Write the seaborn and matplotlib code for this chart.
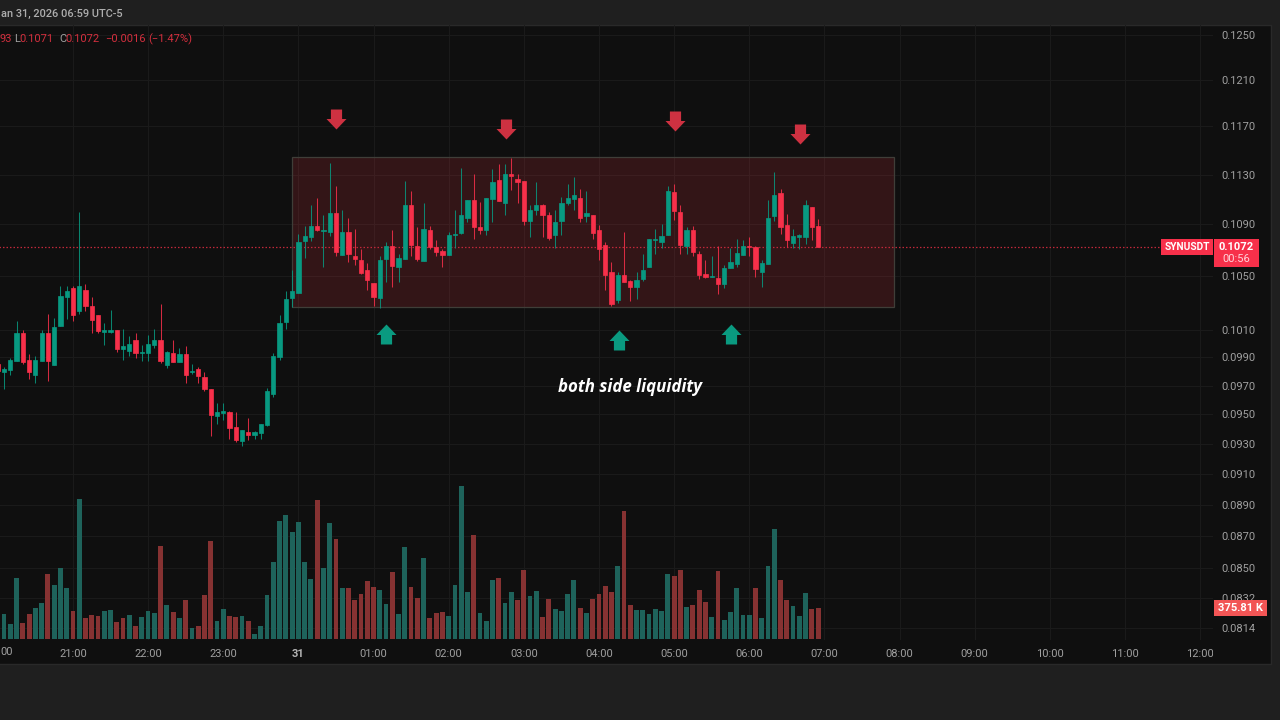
import numpy as np
import pandas as pd
import seaborn as sns
import matplotlib
matplotlib.use("Agg")
import matplotlib.pyplot as plt
from matplotlib.patches import Rectangle
from matplotlib.path import Path
from matplotlib.transforms import Bbox, TransformedBbox

# 5 minute candles, 20:00 -> 06:55, one line = one hour
opens = [
    .09851, .09797, .09808, .09874, .10080, .09879, .09773, .09874, .10080, .09844, .10126, .10342,
    .10411, .10236, .10396, .10278, .10211, .10084, .10084, .10101, .09958, .09943, .10022, .09931,
    .09934, .09993, .10022, .09844, .09934, .09865, .09922, .09797, .09815, .09763, .09675, .09489,
    .09509, .09514, .09416, .09319, .09382, .09359, .09375, .09425, .09640, .09905, .10157, .10334,
    .10374, .10772, .10800, .10884, .10850, .10839, .10990, .10661, .10839, .10651, .10623, .10547,
    .10448, .10336, .10630, .10728, .10572, .10630, .11051, .10733, .10618, .10855, .10725, .10691,
    .10661, .10813, .10831, .10951, .11094, .10876, .10852, .11102, .11258, .11070, .11305, .11264,
    .11244, .10927, .11011, .11054, .10974, .10813, .10927, .11070, .11102, .11110, .10964, .10972,
    .10855, .10736, .10532, .10322, .10509, .10460, .10421, .10479, .10572, .10780, .10761, .10816,
    .11158, .10998, .10728, .10855, .10669, .10517, .10494, .10487, .10441, .10562, .10592, .10661,
    .10730, .10725, .10532, .10592, .10966, .11150, .10895, .10753, .10800, .10800, .11035, .10884,
]
highs = [
    .09860, .09834, .09893, .10164, .10101, .09922, .09910, .10101, .10218, .10189, .10428, .10428,
    .10426, .10999, .10440, .10342, .10211, .10150, .10243, .10101, .10106, .10053, .10073, .09993,
    .10060, .10109, .10292, .09943, .10024, .09965, .09981, .09851, .09834, .09794, .09680, .09582,
    .09582, .09523, .09514, .09393, .09475, .09384, .09434, .09682, .09934, .10211, .10391, .10547,
    .10824, .10887, .11051, .11107, .10972, .11392, .11207, .11011, .10948, .10863, .10707, .10600,
    .10448, .10656, .10759, .10855, .10669, .11244, .11166, .10879, .11070, .10887, .10777, .10707,
    .10839, .11011, .11353, .11091, .11307, .11078, .11107, .11348, .11389, .11389, .11436, .11305,
    .11244, .11051, .11239, .11059, .10998, .11014, .11118, .11220, .11281, .11182, .11166, .10972,
    .10898, .10761, .10608, .10532, .10839, .10468, .10532, .10669, .10782, .10863, .10900, .11207,
    .11226, .11056, .10879, .10887, .10691, .10620, .10651, .10730, .10582, .10715, .10782, .10777,
    .10800, .10730, .10623, .11094, .11321, .11179, .10980, .10860, .10824, .11094, .11035, .10940,
]
lows = [
    .09795, .09675, .09773, .09874, .09851, .09750, .09717, .09874, .09733, .09844, .10126, .10181,
    .10162, .10218, .10241, .10073, .10077, .09993, .10077, .09938, .09879, .09907, .09893, .09872,
    .09872, .09969, .09860, .09822, .09867, .09865, .09722, .09780, .09719, .09661, .09352, .09434,
    .09461, .09332, .09312, .09287, .09325, .09332, .09332, .09420, .09621, .09879, .10109, .10265,
    .10374, .10641, .10766, .10847, .10567, .10808, .10656, .10661, .10605, .10585, .10517, .10396,
    .10275, .10262, .10458, .10416, .10458, .10630, .10653, .10615, .10618, .10707, .10653, .10567,
    .10661, .10717, .10824, .10919, .10785, .10824, .10816, .10919, .11086, .10974, .11174, .11070,
    .10895, .10798, .10972, .10803, .10777, .10715, .10816, .11051, .11011, .10919, .10919, .10785,
    .10623, .10396, .10277, .10300, .10458, .10310, .10329, .10463, .10572, .10669, .10715, .10816,
    .10935, .10669, .10669, .10653, .10479, .10484, .10494, .10366, .10411, .10562, .10567, .10661,
    .10651, .10494, .10416, .10592, .10927, .10824, .10723, .10715, .10707, .10746, .10777, .10723,
]
closes = [
    .09801, .09815, .09879, .10080, .09867, .09797, .09879, .10073, .09872, .10121, .10349, .10391,
    .10211, .10428, .10273, .10174, .10094, .10101, .10101, .09958, .09981, .10000, .09929, .09938,
    .10000, .10029, .09872, .09938, .09867, .09922, .09773, .09804, .09768, .09675, .09495, .09514,
    .09523, .09409, .09323, .09393, .09359, .09377, .09434, .09663, .09910, .10152, .10329, .10391,
    .10759, .10805, .10884, .10852, .10855, .10990, .10684, .10839, .10669, .10630, .10524, .10470,
    .10341, .10623, .10728, .10580, .10638, .11051, .10738, .10630, .10863, .10723, .10684, .10661,
    .10816, .10824, .10974, .11091, .10879, .10855, .11107, .11239, .11086, .11305, .11289, .11239,
    .10927, .11011, .11054, .10972, .10792, .10919, .11070, .11110, .11131, .10951, .10990, .10831,
    .10707, .10509, .10292, .10509, .10458, .10421, .10468, .10547, .10782, .10782, .10805, .11166,
    .11006, .10738, .10855, .10684, .10509, .10492, .10502, .10441, .10562, .10608, .10676, .10730,
    .10725, .10554, .10600, .10951, .11131, .10879, .10774, .10805, .10816, .11051, .10879, .10723,
]
# volume in thousands
volumes = [
    196, 304, 184, 736, 196, 304, 376, 436, 784, 644, 856, 616,
    336, 1680, 256, 284, 276, 336, 344, 208, 256, 292, 160, 268,
    336, 316, 1120, 412, 328, 248, 472, 128, 160, 524, 1180, 216,
    364, 276, 268, 276, 216, 64, 156, 532, 920, 1420, 1488, 1280,
    1408, 928, 716, 1672, 848, 1396, 1204, 608, 616, 472, 544, 700,
    628, 592, 424, 808, 304, 1108, 628, 496, 976, 256, 316, 328,
    276, 644, 1840, 568, 1248, 316, 216, 704, 736, 436, 568, 472,
    832, 516, 576, 268, 484, 364, 336, 544, 712, 376, 316, 484,
    544, 640, 568, 876, 1540, 412, 344, 352, 304, 364, 336, 776,
    756, 828, 388, 404, 592, 448, 268, 820, 224, 328, 616, 284,
    284, 608, 248, 876, 1316, 712, 464, 396, 276, 556, 356, 375.81,
]
vol_sides = list("dgggddggdgggdgdddggddgdgggdgdgdgdddggddgdggggg"
                 "gggggdggdgdddddggdggddgdddggggdgggdggddggddg"
                 "gggdgddddgddggggggddgdddgdgggggdgggddgggdd")

price_ticks = [.1250, .1210, .1170, .1130, .1090, .1050, .1010, .0990, .0970, .0950, .0930, .0910,
               .0890, .0870, .0850, .0832, .0814]
time_ticks = list(range(12, 193, 12))
time_labels = ["21:00", "22:00", "23:00", "31", "01:00", "02:00", "03:00", "04:00",
               "05:00", "06:00", "07:00", "08:00", "09:00", "10:00", "11:00", "12:00"]

# drawings on the chart (bar number, price)
box_x = [47.06, 143.1]
box_y = [.1027, .11444]
sell_x = [54.0, 81.15, 108.1, 128.1]
sell_y = [.11763, .11678, .1175, .11636]
buy_x = [62.0, 99.2, 117.1]
buy_y = [.10071, .10029, .10071]

UP = "#089981"
DOWN = "#F7304A"
VOL_UP = "#1E635B"
VOL_DOWN = "#863232"
PANEL = "#0F0F0F"
GRID = "#1A1A1A"
TXT = "#A0A0A0"
DIM_RED = "#D32F3E"

sns.set_theme(style="dark", rc={"axes.facecolor": "none", "figure.facecolor": "#1F1F1F"})
plt.rcParams["font.family"] = ["Roboto", "DejaVu Sans"]

W, H = 1280, 720
fig = plt.figure(figsize=(W / 100, H / 100), dpi=100)


def px_rect(x0, y0, x1, y1, color, edge="none", z=0):
    fig.add_artist(Rectangle((x0 / W, 1 - y1 / H), (x1 - x0) / W, (y1 - y0) / H, transform=fig.transFigure,
                             facecolor=color, edgecolor=edge, linewidth=1, zorder=z))


def px_text(x, y, s, color=TXT, ha="left", size=8.0, weight="normal", z=6):
    fig.text(x / W, 1 - y / H, s, color=color, ha=ha, va="center", fontsize=size, fontweight=weight, zorder=z)


px_rect(-5, 25, 1271, 664, PANEL, edge="#292929", z=-5)

# axes run a little past the left edge so the first candle still gets drawn
left_px, right_px, top_px, bottom_px = -10, 1213, 25, 640
pos = [left_px / W, 1 - bottom_px / H, (right_px - left_px) / W, (bottom_px - top_px) / H]
ax = fig.add_axes(pos)
vax = fig.add_axes(pos, sharex=ax)

candles = pd.DataFrame({"o": opens, "h": highs, "l": lows, "c": closes})
candles["i"] = candles.index
candles["color"] = np.where(candles.c >= candles.o, UP, DOWN)

ax.set_yscale("log")
ax.add_patch(Rectangle((box_x[0], box_y[0]), box_x[1] - box_x[0], box_y[1] - box_y[0],
                       facecolor=(0.95, 0.21, 0.27, 0.16), edgecolor="#3F3E38", linewidth=0.9, zorder=1.5))
ax.hlines(closes[-1], -2, 185.7, color="#C0283A", linewidth=0.9, linestyles=(0, (1.2, 1.6)), zorder=2)
ax.vlines(candles.i, candles.l, candles.h, color=candles.color, linewidth=0.75, alpha=0.85, zorder=3)
ax.bar(candles.i, (candles.c - candles.o).abs(), bottom=candles[["o", "c"]].min(axis=1), width=0.68,
       color=candles.color, edgecolor=candles.color, linewidth=0.5, zorder=4)

# the arrows are the same shape, just mirrored
up_arrow = Path([(-.56, -1), (.56, -1), (.56, -.05), (1, -.05), (0, 1), (-1, -.05), (-.56, -.05), (-.56, -1)])
down_arrow = Path([(x, -y) for x, y in up_arrow.vertices])
sns.scatterplot(x=sell_x, y=sell_y, marker=down_arrow, s=207, color="#CE3141", linewidth=0, ax=ax, zorder=5)
sns.scatterplot(x=buy_x, y=buy_y, marker=up_arrow, s=207, color="#0A9A80", linewidth=0, ax=ax, zorder=5)
ax.text(100.95, .09692, "both side liquidity", color="white", ha="center", va="center", fontsize=12.2,
        fontweight="bold", fontstyle="italic", family=["Open Sans", "DejaVu Sans"], zorder=6)

volume = pd.DataFrame({"i": candles.i, "vol": volumes, "side": vol_sides})
sns.barplot(data=volume, x="i", y="vol", hue="side", palette={"g": VOL_UP, "d": VOL_DOWN}, native_scale=True,
            dodge=False, width=0.77, saturation=1, legend=False, linewidth=0, edgecolor="none", ax=vax)
vax.set_ylim(-12, 7368)
vax.axis("off")

ax.set_xlim(-1.245, 194.06)
ax.set_ylim(.0807, .12591)
ax.set_yticks(price_ticks, [f"{p:.4f}" for p in price_ticks])
ax.minorticks_off()
ax.yaxis.tick_right()
ax.set_xticks(time_ticks, time_labels)
ax.tick_params(axis="both", length=0, labelcolor=TXT, labelsize=8.0)
ax.tick_params(axis="x", pad=6.5)
ax.tick_params(axis="y", pad=5.8)
ax.set_xlabel("")
ax.set_ylabel("")
ax.grid(True, color=GRID, linewidth=0.72)
ax.set_axisbelow(True)
sns.despine(ax=ax, left=True, bottom=True, right=True, top=True)

for lab in ax.get_xticklabels():
    if lab.get_text() == "31":
        lab.set_fontweight("bold")
        lab.set_color("#B4B4B4")
    if lab.get_text() == "12:00":
        lab.set_clip_box(TransformedBbox(Bbox([[0, 0], [right_px / W, 1]]), fig.transFigure))
        lab.set_clip_on(True)

# what is left of the labels cut by the left edge of the screenshot
px_text(0, 652, "00")
px_text(1, 14, "an 31, 2026 06:59 UTC-5", color="#AEAEAE", size=7.9, weight="medium")
px_text(0, 39, "93", color=DIM_RED)

# header
px_text(14, 39, "L", color=TXT)
px_text(19.5, 39, "0.1071", color=DIM_RED)
px_text(59, 39, "C", color=TXT)
px_text(65.5, 39, "0.1072", color=DIM_RED)
px_text(105, 39, "\u22120.0016", color=DIM_RED)
px_text(148, 39, "(\u22121.47%)", color=DIM_RED)

# price tags on the axis
px_rect(1161, 239, 1213, 255, "#F7304A", z=5)
px_text(1187, 247, "SYNUSDT", color="white", ha="center", size=7.3, weight="bold")
px_rect(1214, 239, 1259, 267, "#F7304A", z=5)
px_text(1236.5, 246.5, "0.1072", color="white", ha="center", size=8.0, weight="bold")
px_text(1236.5, 259, "00:56", color="#FFD5DB", ha="center", size=8.0)
px_rect(1214, 600, 1267, 616, "#F25555", z=5)
px_text(1240.5, 608, "375.81 K", color="white", ha="center", size=8.0, weight="bold")

fig.savefig("out.png", dpi=100, facecolor=fig.get_facecolor())
